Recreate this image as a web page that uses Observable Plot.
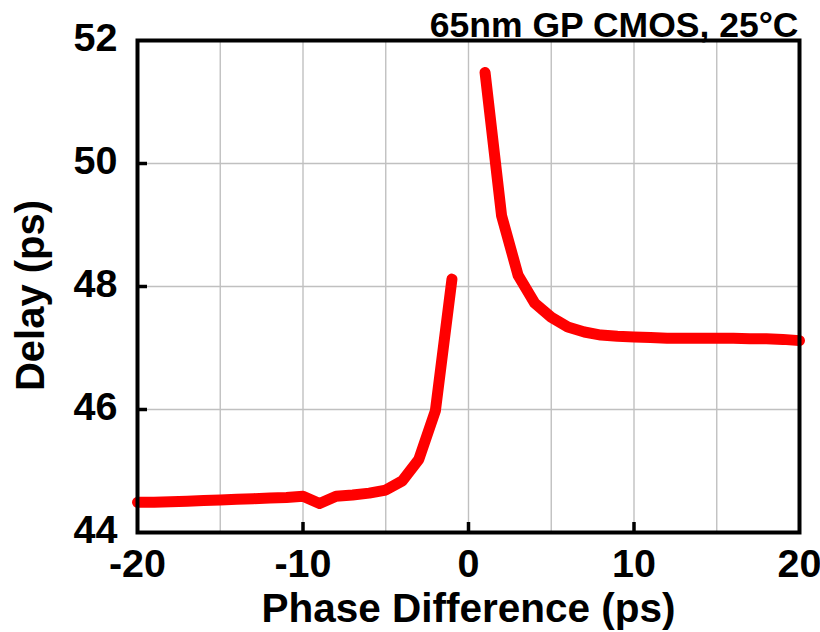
<!DOCTYPE html>
<html>
<head>
<meta charset="utf-8">
<script src="https://cdn.jsdelivr.net/npm/d3@7"></script>
<script src="https://cdn.jsdelivr.net/npm/@observablehq/plot@0.6"></script>
<style>
  html, body { margin: 0; padding: 0; background: #fff; }
</style>
</head>
<body>
<div id="chart"></div>
<script>
// Data
const leftPhase = [-20, -19, -18, -17, -16, -15, -14, -13, -12, -11, -10, -9, -8, -7, -6, -5, -4, -3, -2, -1];
const leftDelay = [44.49, 44.49, 44.50, 44.51, 44.52, 44.53, 44.54, 44.55, 44.56, 44.57, 44.59, 44.47, 44.59, 44.61, 44.64, 44.69, 44.84, 45.19, 45.98, 48.12];
const rightPhase = [1, 2, 3, 4, 5, 6, 7, 8, 9, 10, 11, 12, 13, 14, 15, 16, 17, 18, 19, 20];
const rightDelay = [51.48, 49.15, 48.18, 47.73, 47.50, 47.34, 47.26, 47.21, 47.19, 47.18, 47.17, 47.16, 47.16, 47.16, 47.16, 47.16, 47.15, 47.15, 47.14, 47.12];

const xTicks = [-20, -10, 0, 10, 20];
const xInnerTicks = [-10, 0, 10];
const xGrid = [-15, -10, -5, 0, 5, 10, 15];
const yTicks = [44, 46, 48, 50, 52];
const yInnerTicks = [46, 48, 50];
const yGrid = [44, 46, 48, 50];

const titleText = "65nm GP CMOS, 25°C";
const xLabel = "Phase Difference (ps)";
const yLabel = "Delay (ps)";

const rows = [
  ...leftPhase.map((p, i) => ({phase: p, delay: leftDelay[i], seg: "neg"})),
  ...rightPhase.map((p, i) => ({phase: p, delay: rightDelay[i], seg: "pos"}))
];

const font = "'Liberation Sans', Arial, Helvetica, sans-serif";
const fmt = d => String(d);

const chart = Plot.plot({
  width: 820,
  height: 632,
  marginLeft: 137,
  marginRight: 21,
  marginTop: 40,
  marginBottom: 100,
  x: {domain: [-20, 20]},
  y: {domain: [44, 52]},
  style: {fontFamily: font, fontWeight: "bold", color: "black", background: "white", overflow: "visible"},
  marks: [
    Plot.gridX(xGrid, {stroke: "#c0c0c0", strokeOpacity: 1, strokeWidth: 1.4}),
    Plot.gridY(yGrid, {stroke: "#c0c0c0", strokeOpacity: 1, strokeWidth: 1.4}),
    Plot.line(rows, {x: "phase", y: "delay", z: "seg", stroke: "#ff0000", strokeWidth: 11, strokeLinecap: "round", strokeLinejoin: "round"}),
    Plot.frame({stroke: "black", strokeWidth: 4}),
    Plot.ruleX(xInnerTicks, {x: d => d, stroke: "black", strokeWidth: 3.5, insetTop: 482}),
    Plot.ruleY(yInnerTicks, {y: d => d, stroke: "black", strokeWidth: 3.5, insetRight: 652}),
    Plot.axisX(xTicks, {tickSize: 0, tickPadding: 16, fontSize: 39.5, fontWeight: "bold", label: null, tickFormat: fmt}),
    Plot.axisY(yTicks, {tickSize: 0, tickPadding: 20, fontSize: 39.5, fontWeight: "bold", label: null, dy: -2, tickFormat: fmt}),
    Plot.text([xLabel], {text: d => d, frameAnchor: "bottom", lineAnchor: "top", dy: 61, fontSize: 40.5, fontWeight: "bold"}),
    Plot.text([yLabel], {text: d => d, frameAnchor: "left", textAnchor: "middle", lineAnchor: "top", rotate: -90, dx: -122, dy: 9, fontSize: 40, fontWeight: "bold"}),
    Plot.text([titleText], {text: d => d, frameAnchor: "top-right", textAnchor: "end", lineAnchor: "bottom", dy: -4, dx: -1, fontSize: 35.5, fontWeight: "bold"})
  ]
});
document.getElementById("chart").appendChild(chart);
</script>
</body>
</html>
